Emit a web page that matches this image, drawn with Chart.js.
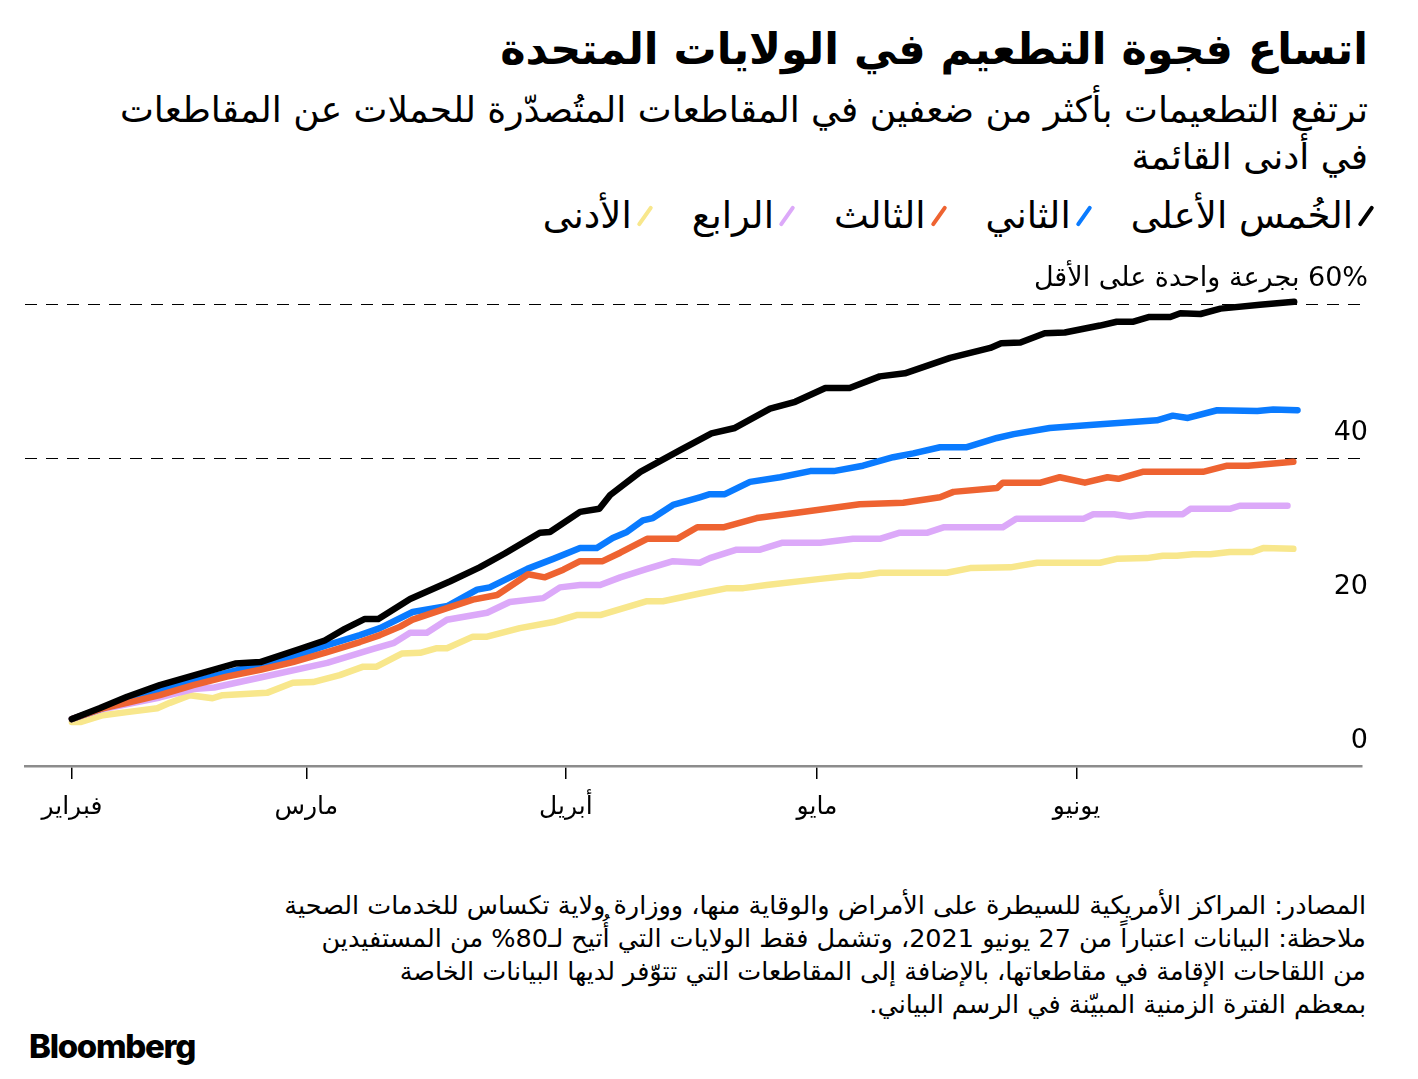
<!DOCTYPE html>
<html lang="ar">
<head>
<meta charset="utf-8">
<script src="https://cdn.jsdelivr.net/npm/chart.js@4.4.0/dist/chart.umd.min.js"></script>
<style>
  html, body { margin: 0; padding: 0; background: #fff; }
  body { width: 1418px; height: 1079px; position: relative; overflow: hidden; font-family: "DejaVu Sans", sans-serif; color: #000; }
  .rtl { direction: rtl; position: absolute; right: 50px; text-align: right; white-space: nowrap; }
  #title { top: 24px; font-size: 43px; font-weight: bold; line-height: 1.2; }
  #subtitle { top: 86px; font-size: 36px; line-height: 47px; }
  #legend { top: 194px; font-size: 37px; display: flex; gap: 45px; line-height: 44px; }
  .item { display: flex; align-items: center; gap: 11px; }
  .mark { width: 4px; height: 24px; border-radius: 2px; transform: rotate(35deg); }
  #notes { top: 889px; font-size: 25.5px; line-height: 33px; right: 52px; }
  #logo { position: absolute; left: 29px; top: 1026px; font-family: Inter, sans-serif; font-weight: 800; font-size: 33px; letter-spacing: -1.3px; }
  #wrap { position: absolute; left: 0; top: 240px; width: 1418px; height: 600px; }
  #chart { direction: rtl; }
</style>
</head>
<body>
<div id="title" class="rtl">اتساع فجوة التطعيم في الولايات المتحدة</div>
<div id="subtitle" class="rtl">ترتفع التطعيمات بأكثر من ضعفين في المقاطعات المتُصدّرة للحملات عن المقاطعات<br>في أدنى القائمة</div>
<div id="legend" class="rtl"></div>
<div id="wrap"><canvas id="chart"></canvas></div>
<div id="notes" class="rtl">المصادر: المراكز الأمريكية للسيطرة على الأمراض والوقاية منها، ووزارة ولاية تكساس للخدمات الصحية<br>ملاحظة: البيانات اعتباراً من 27 يونيو 2021، وتشمل فقط الولايات التي أُتيح لـ80% من المستفيدين<br>من اللقاحات الإقامة في مقاطعاتها، بالإضافة إلى المقاطعات التي تتوّفر لديها البيانات الخاصة<br>بمعظم الفترة الزمنية المبيّنة في الرسم البياني.</div>
<div id="logo">Bloomberg</div>
<script>
// days counted from 1 February 2021
const monthTicks = [0, 28, 59, 89, 120];
const monthLabels = ['فبراير', 'مارس', 'أبريل', 'مايو', 'يونيو'];
const yTicks = [0, 20, 40, 60];
const yTickLabels = ['0', '20', '40', '60% بجرعة واحدة على الأقل'];

const seriesNames = ['الخُمس الأعلى', 'الثاني', 'الثالث', 'الرابع', 'الأدنى'];
const seriesColors = ['#000000', '#0a7bff', '#ee6331', '#dca9f9', '#f8e78c'];

const topX = [0, 3.3, 6.6, 10.5, 15.3, 19.5, 22.5, 27.2, 30.2, 32.6, 35, 36.6, 40.4, 45.2, 48.7, 51.7, 55.9, 57.1, 60.7, 63, 64.3, 67.9, 72.6, 76.4, 79.2, 83.4, 86.4, 90, 92.9, 96.5, 99.5, 104.9, 109.7, 111, 113.3, 116.2, 118.6, 122.8, 124.8, 126.8, 128.6, 131.2, 132.4, 134.8, 137.2, 141.9, 146];
const topY = [6.1, 7.5, 9.0, 10.5, 12.0, 13.3, 13.5, 15.2, 16.3, 17.8, 19.1, 19.1, 21.7, 24.0, 25.8, 27.6, 30.3, 30.4, 33.0, 33.4, 35.2, 38.2, 41.0, 43.2, 43.9, 46.4, 47.3, 49.1, 49.1, 50.6, 51.0, 53.0, 54.3, 54.9, 55.0, 56.2, 56.3, 57.2, 57.7, 57.7, 58.3, 58.3, 58.8, 58.7, 59.4, 59.9, 60.3];

const secondX = [0, 6.6, 10.5, 15.3, 19.5, 26.4, 30.5, 34.4, 36.8, 40.7, 44.9, 48.4, 49.9, 54.4, 57.5, 60.7, 62.7, 64.6, 66.3, 68.2, 69.4, 71.8, 75, 76.2, 78, 81, 84.6, 88.2, 91, 94.5, 98.1, 100.5, 103.7, 106.9, 110.5, 112.5, 116.8, 121.6, 129.6, 131.5, 133.3, 136.8, 141.6, 143.5, 146.4];
const secondY = [6.1, 8.6, 9.9, 11.2, 12.4, 14.2, 15.7, 17.0, 17.9, 20.0, 20.8, 22.9, 23.2, 25.6, 26.9, 28.3, 28.3, 29.6, 30.4, 31.9, 32.2, 33.9, 34.9, 35.3, 35.3, 36.9, 37.5, 38.3, 38.3, 39.0, 40.1, 40.6, 41.4, 41.4, 42.6, 43.1, 43.9, 44.3, 44.9, 45.5, 45.2, 46.2, 46.1, 46.3, 46.2];

const thirdX = [0, 3.7, 6.6, 10.5, 14.5, 18.5, 22.5, 26.4, 30.5, 34.4, 36.8, 39.2, 40.7, 44.8, 47.9, 50.8, 54.5, 56.5, 58.7, 60.7, 63.4, 65.5, 68.7, 72.3, 74.7, 77.8, 81.8, 86.6, 94.1, 99.3, 103.7, 105.3, 110.5, 111.2, 115.7, 118, 121, 123.7, 125, 127.9, 135.1, 138, 140.5, 145.9];
const thirdY = [6.1, 7.5, 8.2, 9.2, 10.5, 11.6, 12.5, 13.5, 14.8, 16.1, 17.0, 18.1, 19.0, 20.5, 21.6, 22.2, 24.9, 24.5, 25.5, 26.6, 26.6, 27.7, 29.5, 29.5, 31.0, 31.0, 32.2, 32.9, 34.0, 34.2, 34.9, 35.6, 36.1, 36.8, 36.8, 37.5, 36.8, 37.5, 37.3, 38.2, 38.2, 39.0, 39.0, 39.5];

const fourthX = [0, 3.7, 10.5, 14.5, 17, 22.5, 30.5, 36, 38.5, 40.4, 42.4, 44.8, 49.6, 52.3, 56.3, 58.3, 60.7, 63.1, 65.5, 68.7, 71.8, 75, 76.2, 79.4, 82.2, 84.9, 89.4, 93.3, 96.5, 98.9, 102.2, 104.1, 111.2, 112.8, 120.8, 122, 124.5, 126.4, 128.4, 132.7, 133.6, 138.3, 139.5, 145.2];
const fourthY = [6.1, 7.4, 8.9, 10.0, 10.2, 11.5, 13.4, 15.2, 16.0, 17.3, 17.3, 19.0, 19.9, 21.3, 21.8, 23.2, 23.5, 23.5, 24.5, 25.6, 26.6, 26.4, 27.0, 28.1, 28.1, 29.0, 29.0, 29.5, 29.5, 30.3, 30.3, 31.0, 31.0, 32.1, 32.1, 32.7, 32.7, 32.4, 32.7, 32.7, 33.4, 33.4, 33.8, 33.8];

const bottomX = [0, 1, 3.7, 6.6, 10.2, 11.7, 14.1, 16.8, 18, 23.3, 26.4, 28.8, 32, 34.8, 36.4, 39.4, 41.6, 43.6, 44.8, 47.9, 49.6, 53.5, 57.5, 60.3, 63.1, 68.7, 70.6, 75, 78.3, 80.2, 83, 89.4, 92.9, 94.1, 96.5, 104.5, 107.3, 112.1, 115.3, 122.8, 124.8, 128.4, 130.3, 132, 133.9, 136, 138.3, 141, 142.3, 145.9];
const bottomY = [5.7, 5.7, 6.6, 7.0, 7.5, 8.2, 9.2, 8.8, 9.2, 9.5, 10.8, 10.9, 11.8, 12.9, 12.9, 14.6, 14.7, 15.3, 15.3, 16.8, 16.8, 17.9, 18.7, 19.6, 19.6, 21.4, 21.4, 22.4, 23.1, 23.1, 23.5, 24.3, 24.7, 24.7, 25.1, 25.1, 25.7, 25.8, 26.4, 26.4, 26.9, 27.0, 27.3, 27.3, 27.5, 27.5, 27.8, 27.8, 28.3, 28.2];

const seriesX = [topX, secondX, thirdX, fourthX, bottomX];
const seriesY = [topY, secondY, thirdY, fourthY, bottomY];
// black on top, orange over blue
const drawOrder = [0, 2, 1, 3, 4];

// legend
const legend = document.getElementById('legend');
seriesNames.forEach((name, i) => {
  const item = document.createElement('div');
  item.className = 'item';
  const mark = document.createElement('span');
  mark.className = 'mark';
  mark.style.background = seriesColors[i];
  const txt = document.createElement('span');
  txt.textContent = name;
  item.appendChild(mark);
  item.appendChild(txt);
  legend.appendChild(item);
});

const datasets = seriesNames.map((name, i) => ({
  label: name,
  data: seriesX[i].map((x, j) => ({ x: x, y: seriesY[i][j] })),
  borderColor: seriesColors[i],
  borderWidth: 6.5,
  pointRadius: 0,
  borderCapStyle: 'round',
  borderJoinStyle: 'round',
  tension: 0,
  clip: false,
  order: drawOrder[i]
}));

new Chart(document.getElementById('chart'), {
  type: 'line',
  data: { datasets: datasets },
  options: {
    responsive: true,
    maintainAspectRatio: false,
    animation: false,
    layout: { padding: { top: 64, left: 25, right: 56, bottom: 0 } },
    plugins: {
      legend: { display: false },
      tooltip: { enabled: false }
    },
    scales: {
      x: {
        type: 'linear',
        min: -5.6,
        max: 154.1,
        afterBuildTicks: s => { s.ticks = monthTicks.map(v => ({ value: v })); },
        afterFit: s => { s.height = 74; },
        grid: { drawOnChartArea: false, drawTicks: true, tickLength: 13, color: '#000', lineWidth: 1.5 },
        border: { display: true, color: '#8c8c8c', width: 2.5 },
        ticks: {
          padding: 13,
          maxRotation: 0,
          autoSkip: false,
          color: '#000',
          font: { family: 'DejaVu Sans', size: 25 },
          callback: v => monthLabels[monthTicks.indexOf(v)]
        }
      },
      y: {
        position: 'right',
        min: 0,
        max: 60,
        afterBuildTicks: s => { s.ticks = yTicks.map(v => ({ value: v })); },
        afterFit: s => { s.width = 0; },
        grid: {
          drawTicks: false,
          lineWidth: 1,
          color: c => (c.tick && c.tick.value >= 40) ? '#000' : 'rgba(0,0,0,0)'
        },
        border: { display: false, dash: [12, 9] },
        ticks: {
          mirror: true,
          padding: 6,
          labelOffset: -25,
          color: '#000',
          font: { family: 'DejaVu Sans', size: 27 },
          callback: v => yTickLabels[yTicks.indexOf(v)]
        }
      }
    }
  }
});
</script>
</body>
</html>
